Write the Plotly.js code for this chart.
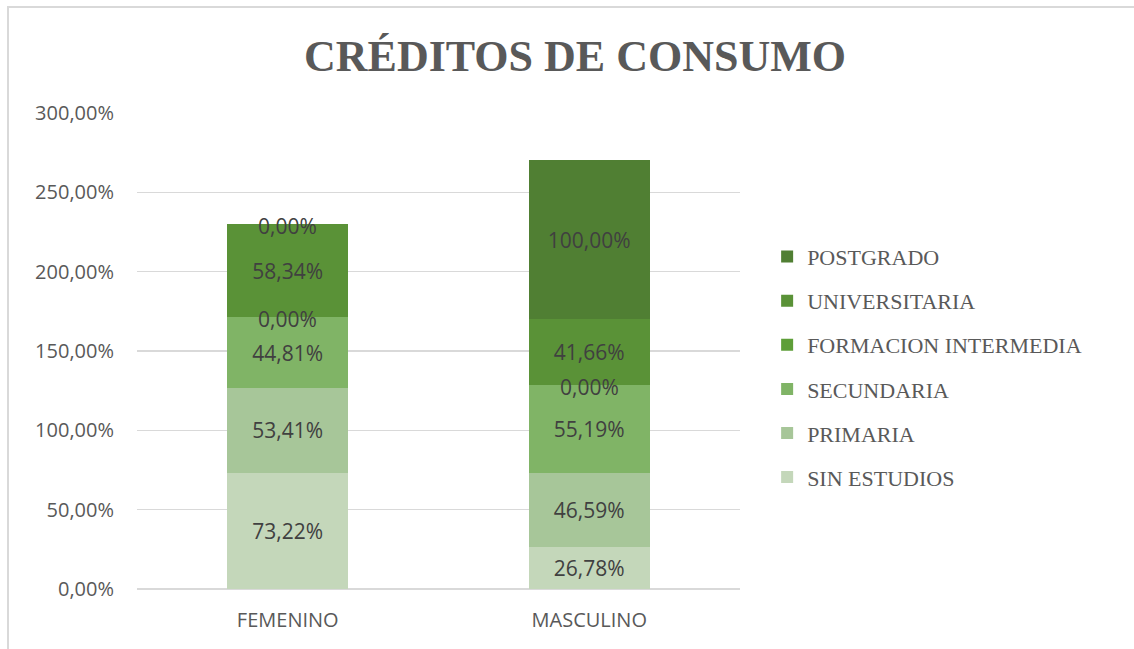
<!DOCTYPE html>
<html>
<head>
<meta charset="utf-8">
<script src="https://cdn.plot.ly/plotly-3.0.1.min.js"></script>
<style>
  html, body { margin: 0; padding: 0; background: #ffffff; }
  #wrap { position: relative; width: 1134px; height: 649px; overflow: hidden; }
  #frame { position: absolute; left: 7px; top: 6px; width: 1140px; height: 660px;
           border-left: 2px solid #d9d9d9; border-top: 2px solid #d9d9d9; pointer-events: none; }
  #chart { position: absolute; left: 0; top: 0; width: 1134px; height: 649px; }
</style>
</head>
<body>
<div id="wrap">
  <div id="chart"></div>
  <div id="frame"></div>
</div>
<script>
const categories = ["FEMENINO", "MASCULINO"];
const seriesNames = ["SIN ESTUDIOS", "PRIMARIA", "SECUNDARIA", "FORMACION INTERMEDIA", "UNIVERSITARIA", "POSTGRADO"];
const sinEstudios = [73.22, 26.78];
const primaria = [53.41, 46.59];
const secundaria = [44.81, 55.19];
const formacionIntermedia = [0.00, 0.00];
const universitaria = [58.34, 41.66];
const postgrado = [0.00, 100.00];
const yTicks = [0, 50, 100, 150, 200, 250, 300];
const yTickLabels = ["0,00%", "50,00%", "100,00%", "150,00%", "200,00%", "250,00%", "300,00%"];

const seriesValues = [sinEstudios, primaria, secundaria, formacionIntermedia, universitaria, postgrado];
const colors = ["#c4d7ba", "#a7c699", "#80b466", "#5e9e38", "#5a9237", "#507f33"];

const labelFont = { family: "Open Sans, Noto Sans, sans-serif", size: 21, color: "#404040" };

const traces = seriesNames.map((name, i) => ({
  type: "bar",
  name: name,
  x: categories,
  y: seriesValues[i],
  legendgroup: "g" + i,
  legendrank: seriesNames.length - i,
  marker: { color: colors[i], line: { width: 0 } },
  texttemplate: "%{y:.2f}%",
  textposition: "inside",
  insidetextanchor: "middle",
  textangle: 0,
  constraintext: "none",
  textfont: labelFont,
  hoverinfo: "skip"
}));

// labels for zero-height segments, placed at the cumulative stack level
const annotations = [];
categories.forEach((cat, c) => {
  let cum = 0;
  seriesValues.forEach((vals) => {
    const v = vals[c];
    if (v === 0) {
      annotations.push({
        x: cat, y: cum, xref: "x", yref: "y",
        text: v.toFixed(2).replace(".", ",") + "%",
        showarrow: false, yanchor: "middle", yshift: -2,
        font: labelFont
      });
    }
    cum += v;
  });
});

const layout = {
  width: 1134,
  height: 649,
  paper_bgcolor: "rgba(0,0,0,0)",
  plot_bgcolor: "#ffffff",
  separators: ",.",
  margin: { l: 137, r: 394, t: 113, b: 60 },
  barmode: "stack",
  bargap: 0.6,
  title: {
    text: "<b>CRÉDITOS DE CONSUMO</b>",
    font: { family: "Liberation Serif, Times New Roman, serif", size: 44, color: "#595959" },
    x: 575 / 1134, xanchor: "center", xref: "container",
    y: 1 - 56 / 649, yanchor: "middle", yref: "container"
  },
  xaxis: {
    type: "category",
    showgrid: false,
    showline: false,
    ticks: "",
    tickfont: { family: "Open Sans, Noto Sans, sans-serif", size: 20, color: "#595959" },
    ticklabelstandoff: 17
  },
  yaxis: {
    range: [0, 300],
    tickmode: "array",
    tickvals: yTicks,
    ticktext: yTickLabels,
    showgrid: true,
    gridcolor: "#d9d9d9",
    gridwidth: 1.5,
    zeroline: true,
    zerolinecolor: "#d9d9d9",
    zerolinewidth: 1.5,
    showline: false,
    ticks: "",
    ticklabelstandoff: 22,
    tickfont: { family: "Open Sans, Noto Sans, sans-serif", size: 20, color: "#595959" }
  },
  showlegend: true,
  legend: {
    traceorder: "grouped",
    tracegroupgap: 12.5,
    x: 1.045, xanchor: "left",
    y: 0.742, yanchor: "top",
    itemwidth: 30,
    font: { family: "Liberation Serif, Times New Roman, serif", size: 22, color: "#595959" },
    bgcolor: "rgba(0,0,0,0)"
  },
  annotations: annotations
};

Plotly.newPlot("chart", traces, layout, { displayModeBar: false, staticPlot: true });
</script>
</body>
</html>
